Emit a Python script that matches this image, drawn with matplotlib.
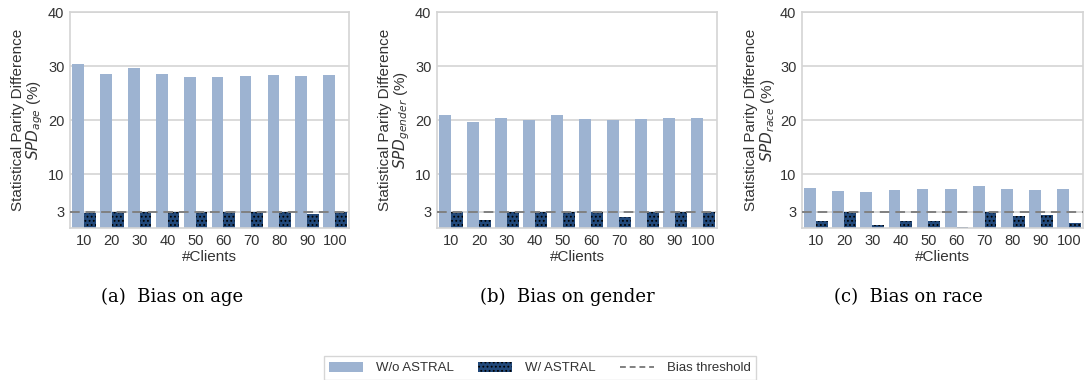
import matplotlib
matplotlib.use("Agg")
import matplotlib.pyplot as plt
import numpy as np
from matplotlib.patches import Patch
from matplotlib.lines import Line2D

clients = ["10", "20", "30", "40", "50", "60", "70", "80", "90", "100"]
age_wo = [30.4, 28.5, 29.6, 28.5, 27.95, 27.95, 28.1, 28.3, 28.1, 28.3]
age_w = [2.75, 3.0, 3.0, 3.05, 3.0, 3.0, 3.0, 3.0, 2.6, 3.05]
gender_wo = [20.9, 19.6, 20.4, 20.0, 20.9, 20.2, 20.0, 20.2, 20.4, 20.4]
gender_w = [3.0, 1.4, 3.0, 3.0, 3.0, 3.0, 2.0, 3.05, 3.0, 3.0]
race_wo = [7.4, 6.85, 6.65, 7.05, 7.2, 7.2, 7.75, 7.2, 7.05, 7.2]
race_w = [1.3, 3.0, 0.55, 1.3, 1.3, 0.2, 3.0, 2.2, 2.4, 0.9]
threshold = 3
yticks = [3, 10, 20, 30, 40]
subscripts = ["age", "gender", "race"]
captions = ["(a)  Bias on age", "(b)  Bias on gender", "(c)  Bias on race"]
legend_labels = ["W/o ASTRAL", "W/ ASTRAL", "Bias threshold"]

LIGHT = "#9db3d1"
DARK = "#22497a"
TXT = "#333333"
GRID = "#d4d4d4"

plt.rcParams["font.family"] = ["Liberation Sans", "DejaVu Sans"]
plt.rcParams["hatch.color"] = "black"
plt.rcParams["hatch.linewidth"] = 0.8

fig = plt.figure(figsize=(10.85, 3.8), dpi=100)
W, H = 1085, 380
boxes = [(70, 349), (437, 717), (802, 1083)]
cap_x = [172, 567, 908]
top, bottom = 12, 228

data = [(age_wo, age_w), (gender_wo, gender_w), (race_wo, race_w)]
x = np.arange(len(clients))
bw = 0.42
for i, ((l, r), (wo, w)) in enumerate(zip(boxes, data)):
    ax = fig.add_axes([l / W, 1 - bottom / H, (r - l) / W, (bottom - top) / H])
    ax.bar(x - bw / 2, wo, width=bw, color=LIGHT, zorder=2)
    ax.bar(x + bw / 2, w, width=bw, color=DARK, hatch="....", edgecolor="black", linewidth=0, zorder=2)
    ax.axhline(threshold, color="#808080", linestyle=(0, (5, 3)), linewidth=1.4, zorder=3)
    ax.set_ylim(0, 40)
    ax.set_xlim(-0.5, len(clients) - 0.5)
    ax.set_yticks(yticks)
    ax.set_xticks(x)
    ax.set_xticklabels(clients)
    ax.tick_params(axis="both", length=0, labelsize=10.5, colors=TXT, pad=4)
    ax.yaxis.grid(True, color=GRID, linewidth=1.2, zorder=0)
    ax.set_axisbelow(True)
    for s in ax.spines.values():
        s.set_color(GRID)
        s.set_linewidth(1.2)
    ax.set_xlabel("#Clients", fontsize=11, color=TXT, labelpad=2)
    ax.set_ylabel("Statistical Parity Difference\n$SPD_{%s}$ (%%)" % subscripts[i],
                  fontsize=11, color=TXT, labelpad=2, linespacing=1.0)
    fig.text(cap_x[i] / W, 1 - 297 / H, captions[i], ha="center", va="center",
             fontsize=13, family="DejaVu Serif", color="black")

handles = [Patch(facecolor=LIGHT, edgecolor="none"),
           Patch(facecolor=DARK, hatch="....", edgecolor="black", linewidth=0),
           Line2D([0], [0], color="#808080", linestyle=(0, (3, 2)), linewidth=1.4)]
leg = fig.legend(handles, legend_labels, loc="center", bbox_to_anchor=(540 / W, 1 - 368 / H),
                 ncol=3, fontsize=9.5, frameon=True, fancybox=False, edgecolor="#cccccc",
                 handlelength=2.6, handleheight=0.8, columnspacing=1.8, handletextpad=1.0,
                 borderpad=0.4)
for t in leg.get_texts():
    t.set_color(TXT)

fig.savefig("out.png", dpi=100)
